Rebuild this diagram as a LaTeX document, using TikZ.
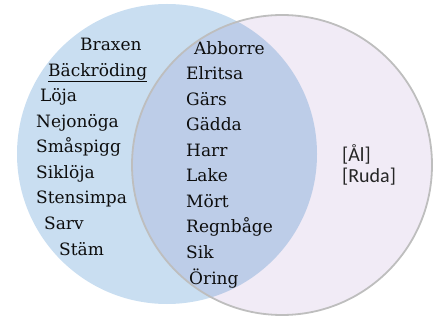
\documentclass[tikz,border=0pt]{standalone}
\usepackage{fontspec}
\setmainfont{DejaVu Serif}
\newfontfamily\calibrifont{Carlito}
\definecolor{setblue}{RGB}{201,222,241}
\definecolor{setlilac}{RGB}{241,235,246}
\definecolor{setboth}{RGB}{189,205,232}
\definecolor{rimgray}{RGB}{190,190,190}
\tikzset{
	fish/.style={anchor=base west, inner sep=0pt, text=black!95,
		font=\fontsize{17}{20}\selectfont},
	rare/.style={fish, text=black!85, font=\calibrifont\fontsize{20}{24}\selectfont}
}
\begin{document}
\begin{tikzpicture}[x=1pt,y=-1pt]
	\useasboundingbox (0,0) rectangle (436,320);
	\fill[setblue] (167,154) circle (150pt);
	\fill[setlilac] (282,165) circle (150pt);
	\begin{scope}
		\clip (167,154) circle (150pt);
		\fill[setboth] (282,165) circle (150pt);
	\end{scope}
	\draw[rimgray, line width=1.8pt] (282,165) circle (150pt);
	% only in the left set
	\node[fish] (braxen) at (80,51) {Braxen};
	\node[fish] (backroding) at (48,76.5) {\underline{Bäckröding}};
	\node[fish] (loja) at (40,102) {Löja};
	\node[fish] (nejonoga) at (36,127.5) {Nejonöga};
	\node[fish] (smaspigg) at (36,153) {Småspigg};
	\node[fish] (sikloja) at (36,178.5) {Siklöja};
	\node[fish] (stensimpa) at (36,204) {Stensimpa};
	\node[fish] (sarv) at (44,229.5) {Sarv};
	\node[fish] (stam) at (59,255) {Stäm};
	% in both sets
	\node[fish] (abborre) at (194,54.5) {Abborre};
	\node[fish] (elritsa) at (186,80) {Elritsa};
	\node[fish] (gars) at (186,105.5) {Gärs};
	\node[fish] (gadda) at (186,131) {Gädda};
	\node[fish] (harr) at (186,156.5) {Harr};
	\node[fish] (lake) at (186,182) {Lake};
	\node[fish] (mort) at (186,207.5) {Mört};
	\node[fish] (regnbage) at (186,233) {Regnbåge};
	\node[fish] (sik) at (186,258.5) {Sik};
	\node[fish] (oring) at (189,284) {Öring};
	% only in the right set
	\node[rare] (al) at (342,162) {[Ål]};
	\node[rare] (ruda) at (342,183) {[Ruda]};
\end{tikzpicture}
\end{document}
